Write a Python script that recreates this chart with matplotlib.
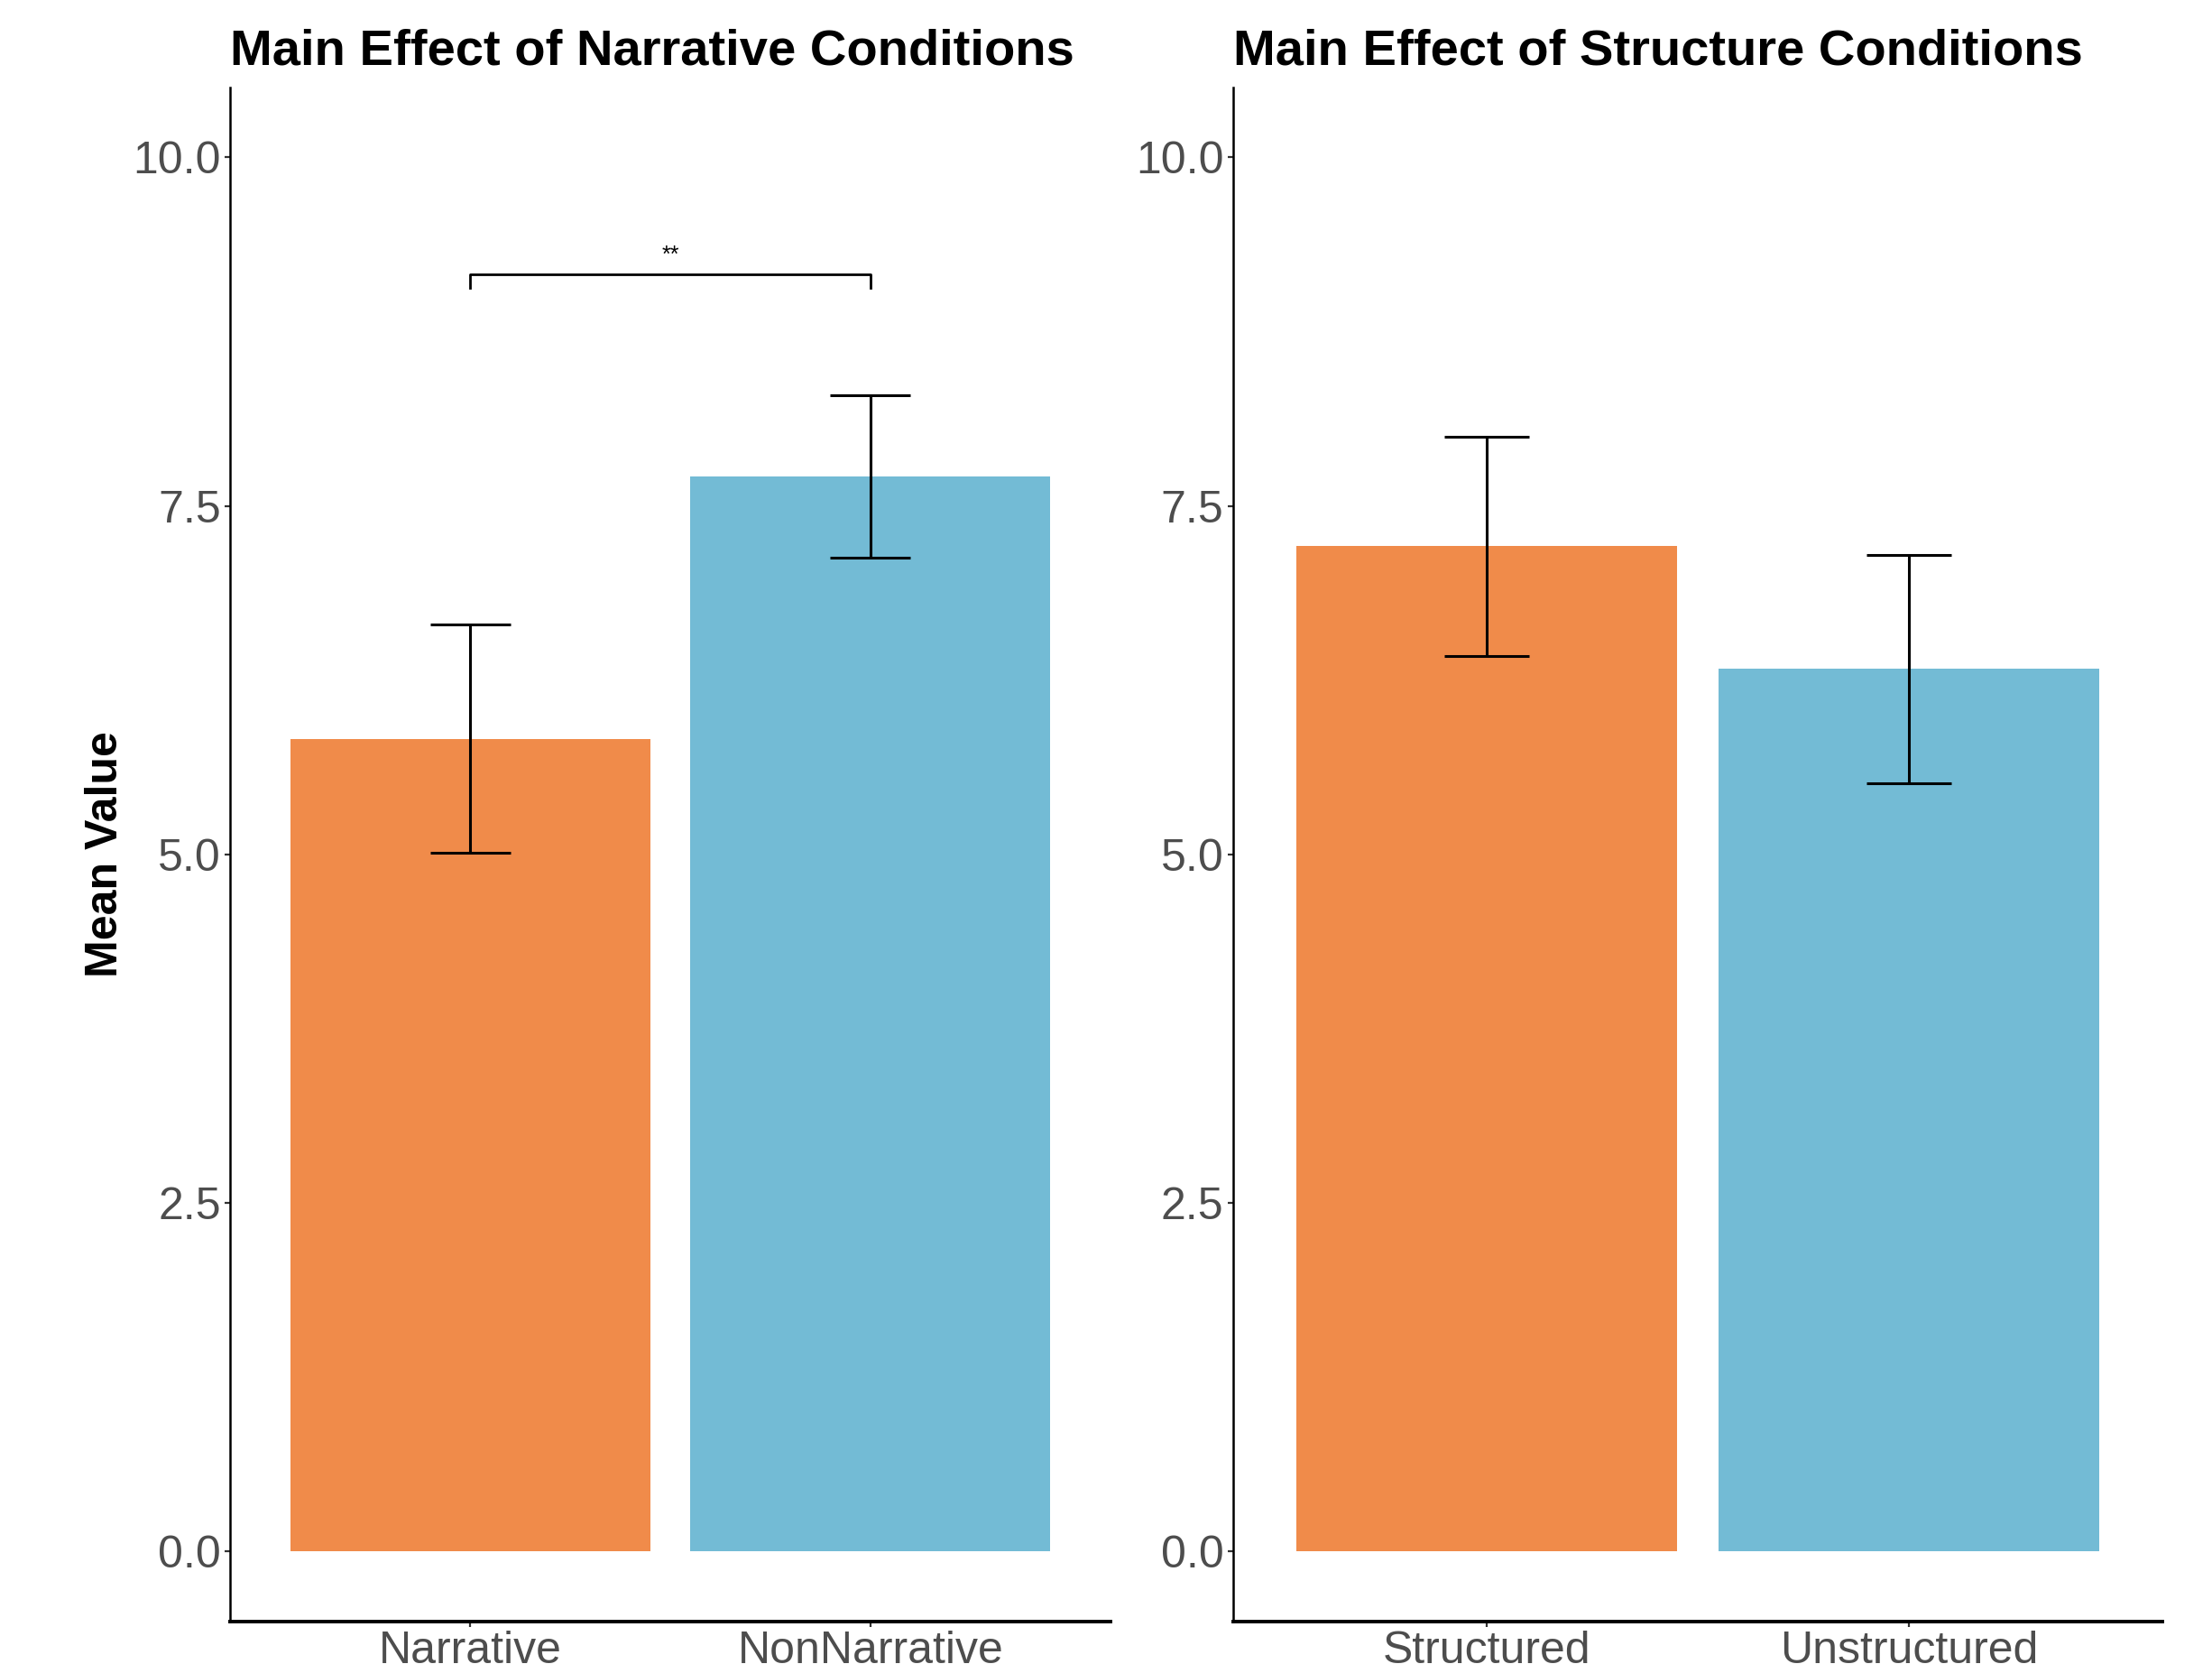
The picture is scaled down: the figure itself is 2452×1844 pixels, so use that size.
"""Two-panel bar chart of main effects with SE error bars (ggplot-like style)."""

import matplotlib

matplotlib.use("Agg")
import matplotlib.pyplot as plt

plt.rcParams["font.family"] = ["Liberation Sans", "DejaVu Sans"]

narrative_labels = ["Narrative", "NonNarrative"]
narrative_means = [5.83, 7.71]
narrative_se = [0.82, 0.58]

structure_labels = ["Structured", "Unstructured"]
structure_means = [7.21, 6.33]
structure_se = [0.785, 0.82]

bar_colors = ["#F08B4A", "#73BBD5"]
y_ticks = [0.0, 2.5, 5.0, 7.5, 10.0]

# significance bracket between the narrative bars
sig_pair = (0, 1)
sig_y = 9.16
sig_tick = 0.1
sig_label = "**"


def draw_panel(ax, labels, means, ses, title):
    xs = list(range(1, len(labels) + 1))
    ax.bar(xs, means, width=0.9, color=bar_colors, zorder=1)
    ax.errorbar(xs, means, yerr=ses, fmt="none", ecolor="black",
                elinewidth=1.1, capsize=0, zorder=2)
    cap_half = 0.1
    for x, m, s in zip(xs, means, ses):
        for yv in (m - s, m + s):
            ax.plot([x - cap_half, x + cap_half], [yv, yv], color="black",
                    lw=1.1, zorder=2, solid_capstyle="butt")
    ax.set_xlim(0.4, len(labels) + 0.6)
    ax.set_ylim(-0.5, 10.5)
    ax.set_xticks(xs)
    ax.set_xticklabels(labels)
    ax.set_yticks(y_ticks)
    ax.set_yticklabels([f"{t:.1f}" for t in y_ticks])
    ax.tick_params(axis="both", labelsize=18, labelcolor="#4D4D4D",
                   color="#333333", length=2.2, width=0.8, pad=1.5)
    for side in ("top", "right"):
        ax.spines[side].set_visible(False)
    ax.spines["left"].set_linewidth(0.9)
    ax.spines["bottom"].set_linewidth(1.4)
    ax.set_title(title, loc="left", fontsize=20.2, fontweight="bold", pad=9)


fig = plt.figure(figsize=(12.26, 9.22), dpi=200)
ax_left = fig.add_axes([0.1040, 0.0257, 0.3980, 0.9217])
ax_right = fig.add_axes([0.5574, 0.0257, 0.4203, 0.9217])

draw_panel(ax_left, narrative_labels, narrative_means, narrative_se,
           "Main Effect of Narrative Conditions")
draw_panel(ax_right, structure_labels, structure_means, structure_se,
           "Main Effect of Structure Conditions")

ax_left.set_ylabel("Mean Value", fontsize=18, fontweight="bold", labelpad=2.5)

x1, x2 = sig_pair[0] + 1, sig_pair[1] + 1
ax_left.plot([x1, x1, x2, x2], [sig_y - sig_tick, sig_y, sig_y, sig_y - sig_tick],
             color="black", lw=1.0)
ax_left.text((x1 + x2) / 2, sig_y + 0.06, sig_label, ha="center", va="bottom",
             fontsize=9)

fig.savefig("out.png", dpi=200, facecolor="white")
